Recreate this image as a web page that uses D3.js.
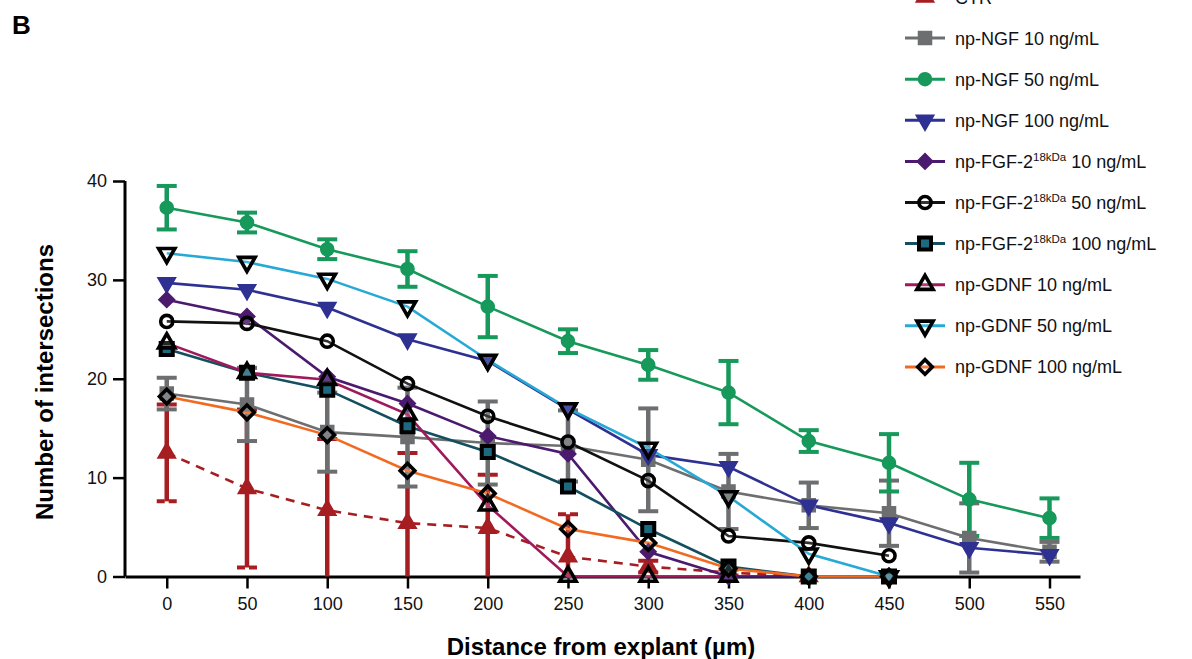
<!DOCTYPE html>
<html lang="en">
<head>
<meta charset="UTF-8">
<title>Number of intersections vs distance from explant</title>
<script src="https://cdnjs.cloudflare.com/ajax/libs/d3/7.8.5/d3.min.js"></script>
<style>
  body { margin: 0; background: #fff; }
  svg { display: block; font-family: Arial, "Liberation Sans", sans-serif; }
</style>
</head>
<body>
<svg width="1192" height="659"></svg>
<script>
// distances (µm) on x axis
var distances = [0, 50, 100, 150, 200, 250, 300, 350, 400, 450, 500, 550];
var yTicks = [0, 10, 20, 30, 40];

// legend labels, "{...}" marks the superscript part
var labels = [
    "CTR",
    "np-NGF 10 ng/mL",
    "np-NGF 50 ng/mL",
    "np-NGF 100 ng/mL",
    "np-FGF-2{18kDa} 10 ng/mL",
    "np-FGF-2{18kDa} 50 ng/mL",
    "np-FGF-2{18kDa} 100 ng/mL",
    "np-GDNF 10 ng/mL",
    "np-GDNF 50 ng/mL",
    "np-GDNF 100 ng/mL"
];

// mean values, one array per group
var ctr       = [12.5, 8.9, 6.7, 5.4, 4.9, 2.0, 1.0, 0.4, 0];
var ngf10     = [18.5, 17.4, 14.6, 14.1, 13.5, 13.2, 11.8, 8.6, 7.2, 6.4, 3.9, 2.5];
var ngf50     = [37.3, 35.8, 33.1, 31.1, 27.3, 23.8, 21.4, 18.6, 13.7, 11.5, 7.8, 5.9];
var ngf100    = [29.7, 29.0, 27.2, 24.0, 21.8, 16.9, 12.3, 11.1, 7.2, 5.4, 2.9, 2.2];
var fgf10     = [28.0, 26.3, 20.2, 17.5, 14.2, 12.4, 2.5, 0, 0];
var fgf50     = [25.8, 25.6, 23.8, 19.5, 16.2, 13.6, 9.7, 4.1, 3.4, 2.1];
var fgf100    = [23.0, 20.6, 18.9, 15.2, 12.6, 9.1, 4.8, 1.0, 0, 0];
var gdnf10    = [23.6, 20.6, 19.9, 16.4, 7.2, 0, 0, 0];
var gdnf50    = [32.7, 31.8, 30.1, 27.3, 21.9, 17.0, 13.0, 8.1, 2.3, 0];
var gdnf100   = [18.2, 16.6, 14.3, 10.7, 8.4, 4.8, 3.4, 0.8, 0, 0];

// error bars (SD) for the groups that show them
var ctrErr    = [4.9, 8.0, 7.2, 7.1, 5.4, 4.3, 0.6, 0.3, 0];
var ngf10Err  = [1.6, 3.7, 4.0, 5.0, 4.2, 3.6, 5.2, 3.8, 2.3, 3.3, 3.5, 1.0];
var ngf50Err  = [2.2, 1.0, 1.0, 1.8, 3.1, 1.2, 1.5, 3.2, 1.1, 2.9, 3.7, 2.0];

var colors = ["#a61e22", "#6d6e70", "#16995a", "#2e3192", "#4b1a6e",
              "#111111", "#144f60", "#a0195b", "#27a9d6", "#f26a21"];

var series = [
    { values: ctr, err: ctrErr, symbol: "triUp", filled: true, dash: "9,7" },
    { values: ngf10, err: ngf10Err, symbol: "square", filled: true },
    { values: ngf50, err: ngf50Err, symbol: "circle", filled: true },
    { values: ngf100, symbol: "triDown", filled: true },
    { values: fgf10, symbol: "diamond", filled: true },
    { values: fgf50, symbol: "circle", filled: false },
    { values: fgf100, symbol: "square", filled: false, inner: "#1d6a80" },
    { values: gdnf10, symbol: "triUp", filled: false },
    { values: gdnf50, symbol: "triDown", filled: false },
    { values: gdnf100, symbol: "diamond", filled: false }
];
series.forEach((s, i) => { s.color = colors[i]; s.label = labels[i]; });

var svg = d3.select("svg");

var x = d3.scaleLinear().domain([-26, 569]).range([125, 1080]);
var y = d3.scaleLinear().domain([0, 40]).range([576.5, 181]);

function symbolPath(name, filled) {
    var t = { triUp: d3.symbolTriangle, triDown: d3.symbolTriangle,
              square: d3.symbolSquare, diamond: d3.symbolSquare, circle: d3.symbolCircle }[name];
    var sz = { triUp: 135, triDown: 135, square: 170, diamond: 125, circle: 135 }[name];
    if (!filled) sz = sz * 0.85;
    return d3.symbol().type(t).size(sz)();
}
function symbolRotate(name) {
    if (name == "triDown") return 180;
    if (name == "diamond") return 45;
    return 0;
}

// axes
var yAxis = svg.append("g")
    .attr("transform", "translate(125,0)")
    .call(d3.axisLeft(y).tickValues(yTicks).tickSize(12).tickPadding(6).tickSizeOuter(0));
var xAxis = svg.append("g")
    .attr("transform", "translate(0,576.5)")
    .call(d3.axisBottom(x).tickValues(distances).tickSize(12).tickPadding(9).tickSizeOuter(0));

[yAxis, xAxis].forEach(a => {
    a.select(".domain").attr("stroke", "#000").attr("stroke-width", 3);
    a.selectAll(".tick line").attr("stroke", "#000").attr("stroke-width", 2.5);
    a.selectAll(".tick text").attr("font-size", 18).attr("fill", "#111")
        .attr("font-family", "Arial, 'Liberation Sans', sans-serif");
});
yAxis.select(".domain").attr("d", "M0," + y(40) + "V" + y(0));

// error bars
series.forEach(s => {
    if (!s.err) return;
    var g = svg.append("g");
    s.values.forEach((v, i) => {
        var e = s.err[i];
        if (!e) return;
        var cx = x(distances[i]);
        var top = y(v + e), bot = y(Math.max(0, v - e));
        g.append("line").attr("x1", cx).attr("x2", cx).attr("y1", top).attr("y2", bot)
            .attr("stroke", s.color).attr("stroke-width", 4.5);
        [v + e, v - e].forEach(c => {
            if (c <= 0.05) return;
            g.append("line").attr("x1", cx - 10).attr("x2", cx + 10)
                .attr("y1", y(c)).attr("y2", y(c))
                .attr("stroke", s.color).attr("stroke-width", 4)
                .attr("stroke-dasharray", s.dash ? "8,4" : null);
        });
    });
});

// lines
var line = d3.line().x((d, i) => x(distances[i])).y(d => y(d));
series.forEach(s => {
    svg.append("path")
        .attr("d", line(s.values))
        .attr("fill", "none")
        .attr("stroke", s.color)
        .attr("stroke-width", 2.6)
        .attr("stroke-dasharray", s.dash || null);
});

// markers
function drawMarker(g, s, cx, cy) {
    var m = g.append("path")
        .attr("d", symbolPath(s.symbol, s.filled))
        .attr("transform", "translate(" + cx + "," + cy + ") rotate(" + symbolRotate(s.symbol) + ")");
    if (s.filled) {
        m.attr("fill", s.color).attr("stroke", s.color).attr("stroke-width", 1.5);
    } else if (s.inner) {
        m.attr("fill", s.inner).attr("stroke", "#000").attr("stroke-width", 4);
    } else {
        m.attr("fill", "#fff").attr("fill-opacity", 0.15).attr("stroke", "#000").attr("stroke-width", 3.6);
    }
}
series.forEach(s => {
    var g = svg.append("g");
    s.values.forEach((v, i) => drawMarker(g, s, x(distances[i]), y(v)));
});

// legend
var legY = d3.scaleLinear().domain([0, 1]).range([-3, 38.1]);
series.forEach((s, i) => {
    var g = svg.append("g").attr("transform", "translate(905," + legY(i) + ")");
    g.append("line").attr("x1", 0).attr("x2", 40).attr("y1", 0).attr("y2", 0)
        .attr("stroke", s.color).attr("stroke-width", 3);
    drawMarker(g, s, 20, 0);
    var parts = s.label.match(/^([^{]*)(?:\{([^}]*)\})?(.*)$/);
    var t = g.append("text").attr("x", 50).attr("y", 6.5).attr("font-size", 18).attr("fill", "#111");
    t.append("tspan").text(parts[1]);
    if (parts[2]) {
        t.append("tspan").attr("font-size", 11.5).attr("dy", -7).text(parts[2]);
        t.append("tspan").attr("dy", 7).text(parts[3]);
    }
});

// titles
svg.append("text").attr("x", 12).attr("y", 34).attr("font-size", 26).attr("font-weight", "bold").text("B");
svg.append("text").attr("x", 601).attr("y", 655).attr("text-anchor", "middle")
    .attr("font-size", 24).attr("font-weight", "bold").text("Distance from explant (µm)");
svg.append("text").attr("transform", "translate(53,382) rotate(-90)").attr("text-anchor", "middle")
    .attr("font-size", 24).attr("font-weight", "bold").text("Number of intersections");
</script>
</body>
</html>
